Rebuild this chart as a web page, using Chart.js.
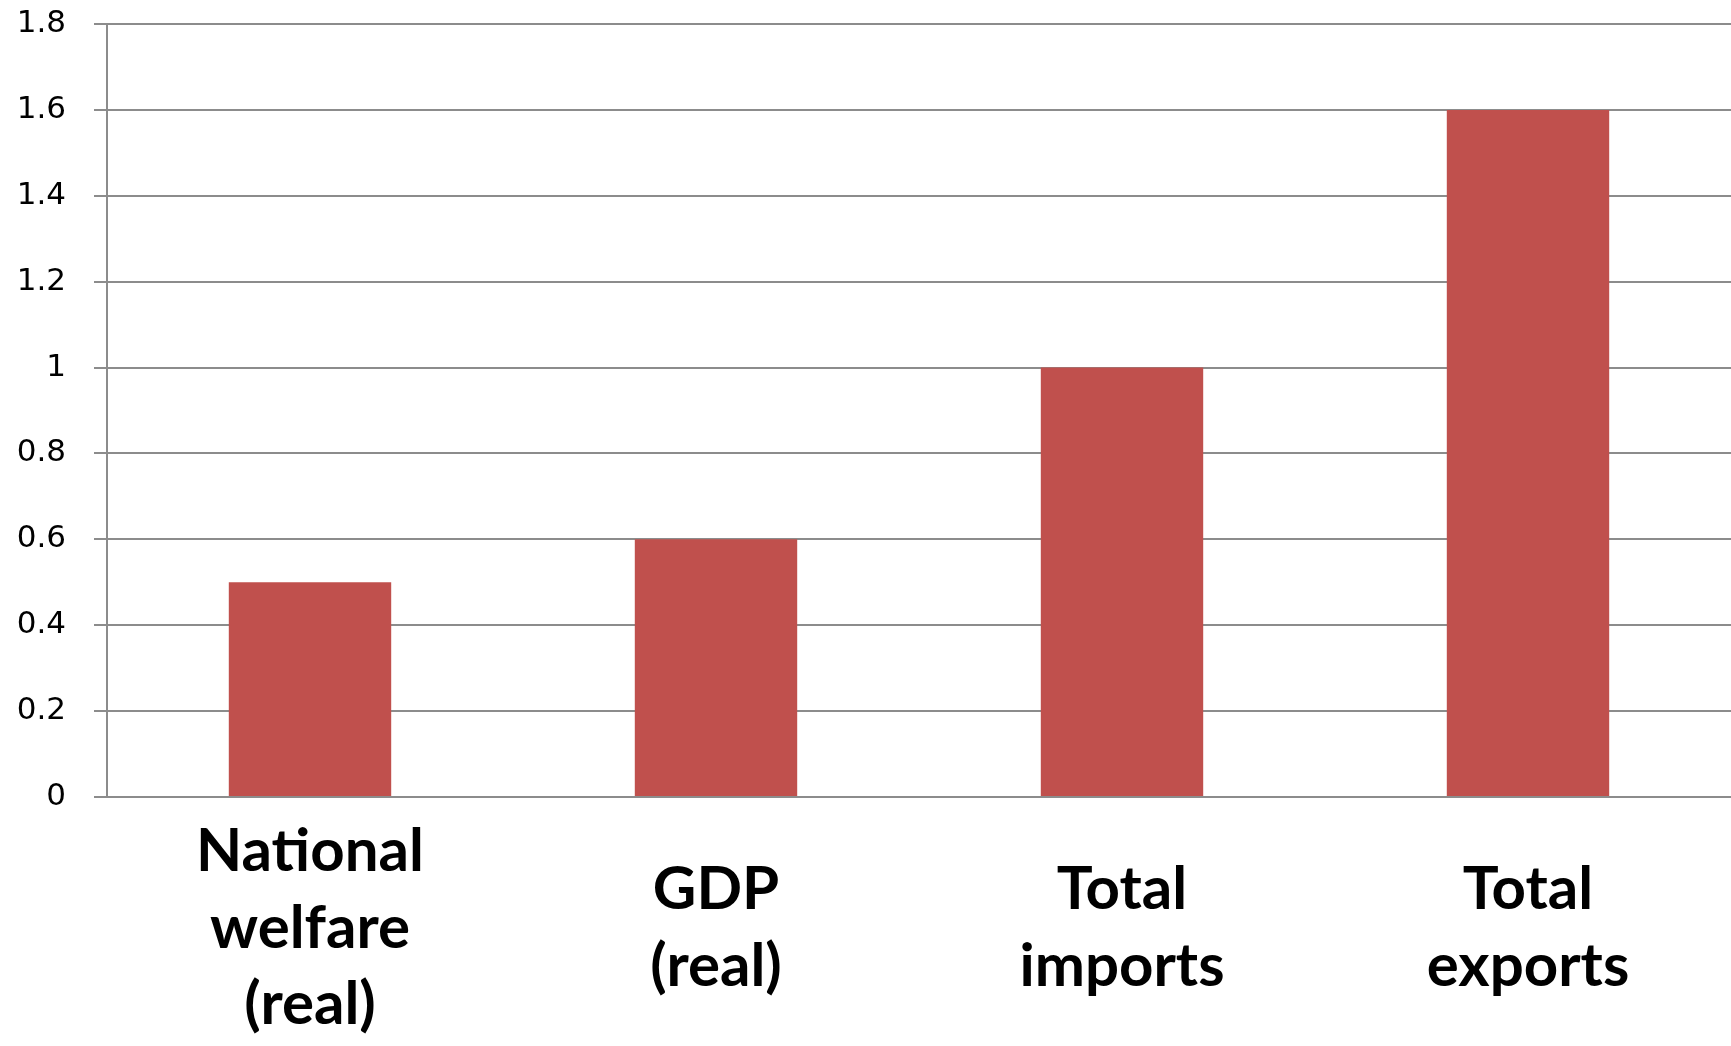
<!DOCTYPE html>
<html>
<head>
<meta charset="utf-8">
<script src="https://cdn.jsdelivr.net/npm/chart.js@4/dist/chart.umd.min.js"></script>
<style>
  html, body { margin: 0; padding: 0; background: #ffffff; }
  #wrap { width: 1731px; height: 1046px; position: relative; }
</style>
</head>
<body>
<div id="wrap"><canvas id="c"></canvas></div>
<script>
const categories = [
  ["National", "welfare", "(real)"],
  ["GDP", "(real)"],
  ["Total", "imports"],
  ["Total", "exports"]
];
const values = [0.5, 0.6, 1.0, 1.6];
const yTickLabels = ["0", "0.2", "0.4", "0.6", "0.8", "1", "1.2", "1.4", "1.6", "1.8"];

const gridColor = "#8c8c8c";

new Chart(document.getElementById("c"), {
  type: "bar",
  data: {
    labels: categories,
    datasets: [{
      data: values,
      backgroundColor: "#C0504D",
      borderWidth: 0,
      barPercentage: 0.4,
      categoryPercentage: 1.0
    }]
  },
  options: {
    responsive: true,
    maintainAspectRatio: false,
    animation: false,
    layout: { padding: { top: 24, right: 0, bottom: 0, left: 0 } },
    plugins: { legend: { display: false }, tooltip: { enabled: false } },
    scales: {
      x: {
        grid: { display: false, drawTicks: false },
        border: { display: true, color: gridColor, width: 2 },
        ticks: {
          color: "#000000",
          padding: 55,
          maxRotation: 0,
          autoSkip: false,
          crossAlign: "center",
          font: { family: "Lato", weight: "bold", size: 60, lineHeight: 1.27 }
        },
        afterFit: (s) => { s.height = 249; s.paddingLeft = 0; s.paddingRight = 0; }
      },
      y: {
        min: 0,
        max: 1.8,
        ticks: {
          stepSize: 0.2,
          color: "#000000",
          padding: 28,
          font: { family: "DejaVu Sans", size: 31 },
          callback: (v, i) => yTickLabels[i]
        },
        grid: { color: gridColor, lineWidth: 2, tickLength: 13, drawTicks: true },
        border: { display: true, color: gridColor, width: 2 },
        afterFit: (s) => { s.width = 107; s.paddingTop = 0; s.paddingBottom = 0; }
      }
    }
  }
});
</script>
</body>
</html>
